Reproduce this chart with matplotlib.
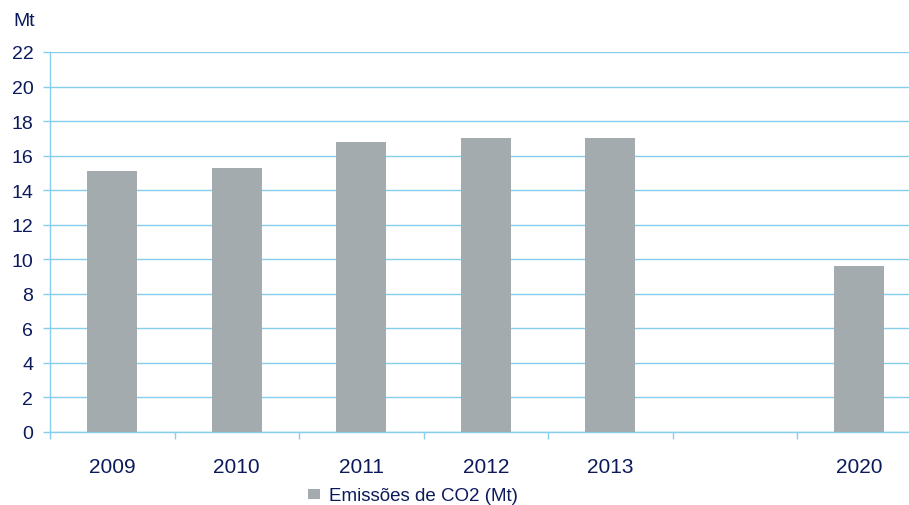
import numpy as np
import matplotlib
matplotlib.use("Agg")
import matplotlib.pyplot as plt
from matplotlib.patches import Patch

categories = ["2009", "2010", "2011", "2012", "2013", "", "2020"]
emissions = [15.1, 15.3, 16.8, 17.0, 17.0, np.nan, 9.6]
series_label = "Emissões de CO2 (Mt)"
y_ticks = list(range(0, 23, 2))
unit_label = "Mt"

text_color = "#0c1a5c"
grid_color = "#86cdee"
bar_color = "#a4abaf"

plt.rcParams["font.family"] = ["Liberation Sans", "DejaVu Sans"]

fig = plt.figure(figsize=(9.09, 5.06), dpi=100)
ax = fig.add_axes([50 / 909, 1 - 433 / 506, (921.5 - 50) / 909, (433 - 53) / 506])

x = np.arange(len(categories))
ax.bar(x, emissions, width=0.4, color=bar_color, zorder=3)

ax.set_xlim(-0.5, len(categories) - 0.5)
ax.set_ylim(0, 22)
ax.set_yticks(y_ticks)
ax.set_yticklabels([str(t) for t in y_ticks], fontsize=14, color=text_color)
ax.set_xticks(x)
ax.set_xticklabels(categories, fontsize=15, color=text_color)
ax.set_xticks(np.arange(-0.5, len(categories), 1.0), minor=True)

ax.grid(axis="y", color=grid_color, linewidth=1.0, zorder=0)
for s in ["top", "right"]:
    ax.spines[s].set_visible(False)
for s in ["left", "bottom"]:
    ax.spines[s].set_color(grid_color)
    ax.spines[s].set_linewidth(1.0)

ax.tick_params(axis="y", length=5, width=1.0, color=grid_color, pad=7)
ax.tick_params(axis="x", which="major", length=0, pad=18)
ax.tick_params(axis="x", which="minor", length=5, width=1.0, color=grid_color)

fig.text(13 / 909, 1 - 22 / 506, unit_label, fontsize=14, color=text_color,
         ha="left", va="center")

handle = Patch(facecolor=bar_color, edgecolor="none")
leg = fig.legend([handle], [series_label], loc="center",
                 bbox_to_anchor=(413 / 909, 1 - 497 / 506), frameon=False,
                 fontsize=13.5, handlelength=0.65, handleheight=0.45,
                 handletextpad=0.45, borderpad=0)
for t in leg.get_texts():
    t.set_color(text_color)

fig.savefig("out.png", dpi=100)
